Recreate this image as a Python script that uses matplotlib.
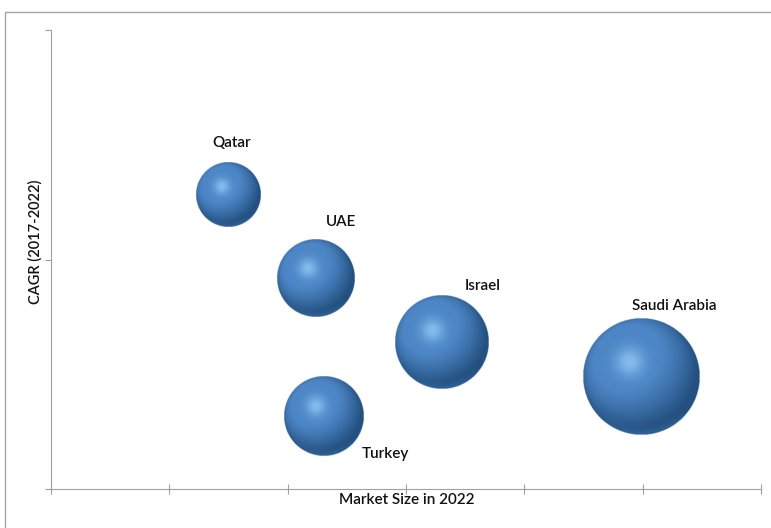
import numpy as np
import matplotlib.pyplot as plt
from matplotlib.patches import Rectangle
from matplotlib.colors import to_rgb

# datos de la grafica (unidades arbitrarias, sin etiquetas en los ejes)
paises = ['Qatar', 'UAE', 'Israel', 'Saudi Arabia', 'Turkey']
tamano_mercado = [1.50, 2.24, 3.30, 4.99, 2.31]   # eje x
cagr = [1.28, 0.92, 0.64, 0.49, 0.32]              # eje y
tamano_burbuja = [32, 39, 47, 58.5, 40]            # radio relativo de la burbuja

# desplazamiento de cada etiqueta (pixeles) respecto a su burbuja
offsets = [(3, 52), (25, 56), (41, 56), (33, 71), (61, -38)]

plt.rcParams['font.family'] = ['Lato', 'DejaVu Sans']

fig = plt.figure(figsize=(7.71, 5.28), dpi=100)
ax = fig.add_axes([51/771, 39/528, 710/771, 459/528])

gris = '#a0a0a0'
for s in ['top', 'right']:
    ax.spines[s].set_visible(False)
ax.spines['left'].set_color(gris)
ax.spines['bottom'].set_color(gris)
ax.set_xticks(np.arange(0, 7))
ax.set_yticks([0, 1, 2])
ax.tick_params(axis='x', direction='inout', length=7, color=gris, labelbottom=False)
ax.tick_params(axis='y', direction='out', length=4, color=gris, labelleft=False)

# imagen de una esfera sombreada
n = 300
u = np.linspace(-1, 1, n)
X, Y = np.meshgrid(u, -u)
r2 = X**2 + Y**2
Z = np.sqrt(np.clip(1 - r2, 0, 1))
L = np.array([-0.3, 0.4, 0.87])
L = L / np.linalg.norm(L)
dif = np.clip(X*L[0] + Y*L[1] + Z*L[2], 0, 1)
oscuro = np.array(to_rgb('#23507f'))
base = np.array(to_rgb('#4d86c6'))
claro = np.array(to_rgb('#92cbf6'))
t = dif**1.3
img = oscuro + (base - oscuro) * np.clip(t*1.35, 0, 1)[..., None]
hx, hy = X + 0.2, Y - 0.25
spec = np.exp(-(hx**2 + hy**2) / 0.06)
img = img + (claro - img) * spec[..., None] * 0.8
# reflejo suave en el borde inferior
refl = np.clip((-Y - 0.55) / 0.45, 0, 1) * np.clip((r2 - 0.65) / 0.35, 0, 1) * 0.4
img = img + (base - img) * refl[..., None]
alpha = (r2 <= 1.0).astype(float)
rgba = np.dstack([np.clip(img, 0, 1), alpha])

px_x = 710 / 6
px_y = 459 / 2
for xi, yi, ri, nombre, off in zip(tamano_mercado, cagr, tamano_burbuja, paises, offsets):
    rx = ri / px_x
    ry = ri / px_y
    ax.imshow(rgba, extent=[xi - rx, xi + rx, yi - ry, yi + ry],
              aspect='auto', interpolation='bilinear', zorder=3)
    ax.annotate(nombre, (xi, yi), xytext=off, textcoords='offset pixels',
                ha='center', va='center', fontsize=11, fontweight='semibold',
                color='#111111', zorder=4)

ax.set_xlim(0, 6)
ax.set_ylim(0, 2)

fig.text(407/771, 1 - 500/528, 'Market Size in 2022', ha='center', va='center',
         fontsize=11, fontweight='semibold', color='#111111')
fig.text(35/771, 1 - 242/528, 'CAGR (2017-2022)', ha='center', va='center',
         rotation=90, fontsize=10.5, fontweight='semibold', color='#111111')

fig.patches.append(Rectangle((5/771, -0.05), 1.1, 1 - 12/528 + 0.05,
                             transform=fig.transFigure, fill=False,
                             edgecolor='#a6a6a6', linewidth=1))

fig.savefig('out.png', dpi=100)
